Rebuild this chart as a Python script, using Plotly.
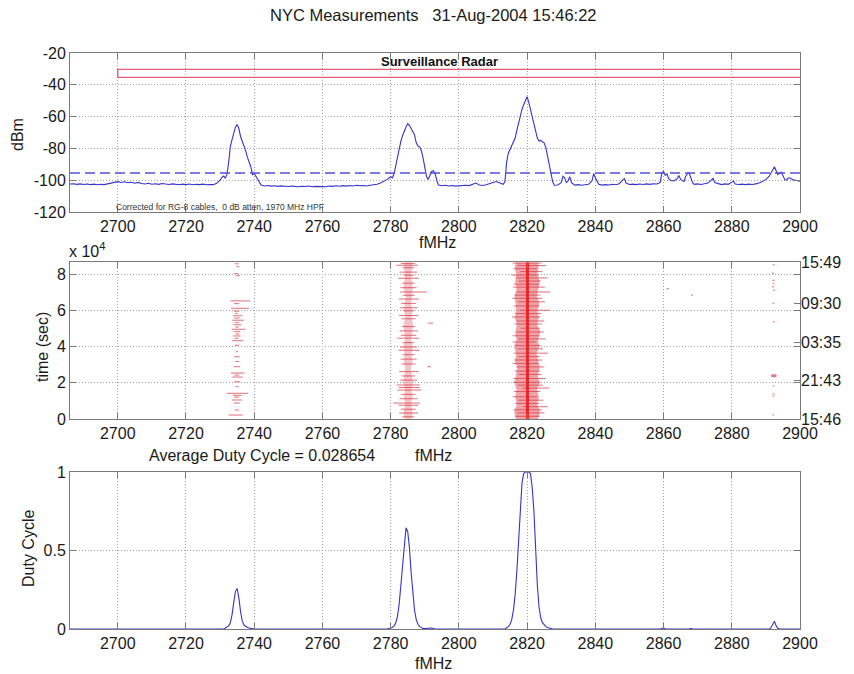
import plotly.graph_objects as go

# ---------------- data ----------------
spec_freq = [2686, 2687, 2688, 2689, 2690, 2691, 2692, 2693, 2694, 2695, 2696, 2697, 2698, 2699,
             2700, 2701, 2702, 2703, 2704, 2705, 2706, 2707, 2708, 2709, 2710, 2711, 2712, 2713,
             2714, 2715, 2716, 2717, 2718, 2719, 2720, 2721, 2722, 2723, 2724, 2725, 2726, 2727,
             2728, 2729, 2730, 2730.5, 2731, 2731.5, 2732, 2732.5, 2733, 2733.5, 2734, 2734.5,
             2735, 2735.5, 2736, 2736.5, 2737, 2737.5, 2738, 2738.5, 2739, 2739.5, 2740, 2740.5,
             2741, 2741.5, 2742, 2743, 2744, 2745, 2746, 2747, 2748, 2749, 2750, 2751, 2752, 2753,
             2754, 2755, 2756, 2757, 2758, 2759, 2760, 2761, 2762, 2763, 2764, 2765, 2766, 2767,
             2768, 2769, 2770, 2771, 2772, 2773, 2774, 2775, 2776, 2777, 2778, 2779, 2780, 2780.5,
             2781, 2781.5, 2782, 2782.5, 2783, 2783.5, 2784, 2784.5, 2785, 2785.5, 2786, 2786.5,
             2787, 2787.5, 2788, 2788.5, 2789, 2789.5, 2790, 2790.5, 2791, 2791.5, 2792, 2792.5,
             2793, 2793.5, 2794, 2795, 2796, 2797, 2798, 2799, 2800, 2801, 2802, 2803, 2804, 2805,
             2806, 2807, 2808, 2809, 2810, 2811, 2812, 2813, 2813.5, 2814, 2814.5, 2815, 2815.5,
             2816, 2816.5, 2817, 2817.5, 2818, 2818.5, 2819, 2819.5, 2820, 2820.5, 2821, 2821.5,
             2822, 2822.5, 2823, 2823.5, 2824, 2824.5, 2825, 2825.5, 2826, 2826.5, 2827, 2827.5,
             2828, 2829, 2830, 2830.5, 2831, 2831.5, 2832, 2832.5, 2833, 2834, 2835, 2836, 2837,
             2838, 2839, 2839.5, 2840, 2841, 2842, 2843, 2844, 2845, 2846, 2847, 2848, 2848.5,
             2849, 2850, 2851, 2852, 2853, 2854, 2855, 2856, 2857, 2858, 2859, 2859.5, 2860,
             2860.5, 2861, 2861.5, 2862, 2863, 2864, 2864.5, 2865, 2866, 2866.5, 2867, 2867.5,
             2868, 2868.5, 2869, 2870, 2871, 2872, 2873, 2874, 2874.5, 2875, 2876, 2877, 2878,
             2879, 2880, 2880.5, 2881, 2882, 2883, 2884, 2885, 2886, 2887, 2888, 2889, 2890, 2891,
             2891.5, 2892, 2892.5, 2893, 2893.5, 2894, 2894.5, 2895, 2895.5, 2896, 2896.5, 2897,
             2898, 2899, 2900]
spec_dbm = [-102.4, -102.2, -102.6, -102.3, -102.7, -102.4, -102.8, -102.5, -102.9, -102.6, -102.8,
            -102.3, -101.8, -101.5, -100.9, -101.4, -101.0, -101.6, -101.3, -101.9, -101.4, -102.1,
            -102.4, -101.9, -102.5, -102.2, -102.6, -102.1, -102.4, -102.7, -102.3, -102.6, -102.9,
            -102.5, -102.8, -102.4, -102.9, -102.6, -102.8, -102.5, -102.9, -102.7, -102.8, -102.0,
            -100.0, -98.2, -97.4, -98.6, -96.5, -89.0, -79.0, -74.5, -70.5, -66.5, -65.0, -67.5,
            -72.5, -75.5, -78.0, -81.5, -85.5, -88.0, -91.5, -96.5, -95.8, -97.5, -99.5, -101.5,
            -103.0, -103.6, -103.3, -103.7, -103.5, -103.9, -103.6, -103.8, -104.0, -103.7, -103.9,
            -104.1, -103.8, -104.0, -103.7, -104.1, -103.9, -104.0, -103.8, -104.1, -103.7, -103.9,
            -103.5, -103.8, -103.4, -103.7, -103.3, -103.6, -103.2, -103.5, -103.3, -103.6, -103.2,
            -103.0, -102.6, -101.8, -100.8, -99.5, -97.8, -98.5, -96.0, -91.0, -84.0, -79.0, -75.5,
            -72.0, -69.0, -66.5, -64.5, -65.5, -67.5, -69.5, -71.5, -76.5, -78.5, -79.0, -81.5,
            -86.0, -91.0, -97.5, -99.5, -96.5, -94.5, -94.0, -95.5, -100.0, -103.0, -103.5, -103.2,
            -103.6, -103.3, -103.7, -103.4, -103.5, -103.2, -103.4, -102.8, -101.8, -103.0, -103.3,
            -102.9, -102.4, -101.5, -100.8, -101.9, -102.6, -101.0, -88.5, -83.0, -80.5, -79.0,
            -76.0, -73.5, -68.5, -63.5, -59.5, -55.5, -52.5, -49.5, -47.5, -51.0, -55.5, -60.5,
            -65.0, -70.0, -73.5, -75.5, -74.8, -76.0, -76.5, -79.5, -84.5, -89.0, -95.0, -101.0,
            -103.2, -103.0, -101.5, -97.5, -98.5, -101.5, -100.5, -97.8, -101.5, -103.1, -102.8,
            -103.2, -102.9, -102.6, -100.5, -95.8, -98.5, -102.5, -103.1, -102.8, -103.0, -102.6,
            -102.9, -102.2, -100.0, -99.0, -101.8, -102.7, -102.5, -102.8, -102.4, -102.7, -102.3,
            -102.6, -102.2, -102.4, -101.5, -95.5, -94.5, -97.0, -96.0, -99.0, -100.0, -100.5,
            -99.0, -97.0, -99.5, -100.8, -97.5, -96.0, -95.5, -98.5, -101.5, -102.6, -102.3,
            -102.7, -102.4, -101.8, -100.0, -98.8, -101.5, -102.4, -102.8, -102.3, -102.6, -101.2,
            -100.5, -102.4, -102.7, -102.5, -102.8, -102.5, -102.7, -102.3, -101.8, -100.8, -99.5,
            -97.5, -95.5, -93.0, -91.5, -94.0, -96.5, -95.5, -95.0, -97.0, -99.5, -100.0, -98.8,
            -98.5, -99.8, -100.2, -100.6]
threshold_dbm = -95.5
band_name = "Surveillance Radar"
band_freq = [2700, 2910]          # allocation band start / (beyond) end
band_dbm = [-35.3, -30.3]         # drawn band box (low / high)
dbm_ticks = [-120, -100, -80, -60, -40, -20]

# time-frequency occupancy events: time (s), start MHz, end MHz
e35_t = [85800, 84200, 80400, 79200, 65300, 63800, 61200, 59600, 58400, 57100, 55800, 54600, 53300,
         52100, 50800, 49600, 48300, 47000, 45900, 44600, 43300, 40800, 37200, 34400, 31800, 28900,
         25400, 24300, 23200, 20600, 17900, 14200, 13100, 12100, 10500, 8800, 5000, 2200]
e35_f0 = [2734.3, 2734.8, 2734.2, 2734.6, 2733.0, 2734.1, 2733.2, 2734.0, 2734.4, 2733.8, 2734.2,
          2733.6, 2734.3, 2733.9, 2734.5, 2733.4, 2734.1, 2734.6, 2733.8, 2734.2, 2733.5, 2734.3,
          2734.6, 2734.1, 2734.5, 2734.0, 2733.2, 2734.3, 2733.6, 2734.2, 2734.5, 2732.0, 2733.8,
          2734.1, 2733.5, 2734.0, 2734.3, 2732.5]
e35_f1 = [2735.4, 2735.6, 2735.3, 2735.8, 2738.8, 2735.5, 2738.5, 2735.6, 2735.2, 2736.5, 2735.7,
          2737.0, 2735.5, 2736.2, 2735.4, 2737.4, 2735.8, 2735.6, 2736.0, 2735.4, 2736.8, 2735.6,
          2735.3, 2735.7, 2735.5, 2735.9, 2737.2, 2735.6, 2736.6, 2735.8, 2735.4, 2738.2, 2736.3,
          2735.5, 2736.4, 2735.8, 2735.6, 2736.6]

b85_t = [0, 4000, 8000, 12000, 16000, 20000, 24000, 28000, 32000, 36000, 40000, 44000, 48000,
         52000, 56000, 60000, 64000, 68000, 72000, 76000, 80000, 84000, 86600]
b85_lo = [2784.1, 2783.8, 2784.3, 2783.9, 2784.2, 2783.7, 2784.0, 2784.3, 2783.9, 2784.1, 2783.8,
          2784.2, 2784.0, 2783.7, 2784.3, 2783.9, 2784.1, 2784.4, 2783.8, 2784.0, 2784.2, 2783.9, 2784.1]
b85_hi = [2786.2, 2786.5, 2786.0, 2786.4, 2786.1, 2786.6, 2786.2, 2785.9, 2786.4, 2786.1, 2786.5,
          2786.0, 2786.3, 2786.6, 2786.1, 2786.4, 2786.0, 2786.3, 2786.5, 2786.2, 2786.0, 2786.4, 2786.2]
e85_t = [86000, 85000, 83600, 81200, 79500, 77800, 75100, 72600, 70200, 68400, 66300, 63900, 61500,
         59800, 57200, 55400, 53000, 51100, 48700, 46300, 44700, 42200, 39800, 38000, 35600, 33100,
         30400, 28900, 26200, 23800, 21500, 18800, 17400, 16000, 13600, 11200, 8800, 7600, 5400,
         3300, 1200]
e85_f0 = [2783.0, 2781.7, 2783.5, 2782.6, 2783.8, 2782.2, 2783.4, 2782.9, 2782.8, 2783.6, 2782.4,
          2783.1, 2782.7, 2783.9, 2782.5, 2783.2, 2791.0, 2783.4, 2782.6, 2783.0, 2781.9, 2783.5,
          2782.8, 2782.3, 2783.6, 2782.9, 2783.2, 2790.8, 2782.5, 2783.3, 2782.8, 2781.8, 2782.4,
          2782.0, 2783.1, 2782.6, 2780.7, 2782.3, 2783.0, 2782.5, 2783.4]
e85_f1 = [2787.2, 2788.0, 2786.9, 2787.8, 2786.8, 2788.2, 2787.1, 2787.6, 2790.6, 2787.0, 2788.3,
          2787.4, 2787.9, 2786.9, 2788.1, 2787.3, 2792.5, 2787.1, 2788.0, 2787.5, 2788.4, 2786.9,
          2787.7, 2788.5, 2787.0, 2787.6, 2787.3, 2791.8, 2788.2, 2787.2, 2787.8, 2788.6, 2788.4,
          2788.9, 2787.3, 2787.9, 2788.6, 2788.1, 2787.4, 2788.0, 2786.9]

b20_t = b85_t
b20_lo = [2816.8, 2816.2, 2817.0, 2816.5, 2816.9, 2816.3, 2816.7, 2817.1, 2816.4, 2816.8, 2816.2,
          2816.9, 2816.5, 2817.0, 2816.4, 2816.8, 2816.6, 2816.3, 2816.9, 2816.5, 2816.8, 2816.4, 2816.7]
b20_hi = [2823.2, 2823.8, 2823.0, 2823.5, 2822.9, 2823.6, 2823.1, 2823.7, 2823.3, 2822.8, 2823.5,
          2823.2, 2823.9, 2823.0, 2823.4, 2823.1, 2823.6, 2822.9, 2823.3, 2823.7, 2823.0, 2823.4, 2823.2]
c20_freq = [2820.1, 2820.1]
c20_t = [0, 86600]
e20_t = [86200, 84800, 83100, 81500, 79600, 78000, 76300, 74500, 72900, 70200, 68500, 66700, 64800,
         62500, 60100, 58300, 56400, 54200, 52500, 50200, 48100, 46000, 44300, 42600, 40700, 38800,
         36400, 34500, 32600, 30700, 28800, 26500, 24600, 22400, 20300, 18700, 17100, 15200, 12300,
         10400, 8600, 6800, 5100, 3400, 1500]
e20_f0 = [2815.8, 2817.2, 2816.0, 2818.0, 2815.5, 2816.8, 2817.5, 2816.2, 2815.9, 2817.0, 2816.4,
          2815.7, 2817.3, 2816.1, 2817.8, 2816.5, 2815.6, 2817.1, 2816.3, 2818.2, 2816.9, 2815.8,
          2817.4, 2815.8, 2816.6, 2817.2, 2816.0, 2817.5, 2816.3, 2815.8, 2817.0, 2816.4, 2817.6,
          2816.1, 2815.9, 2817.3, 2818.5, 2816.2, 2815.8, 2817.4, 2816.5, 2818.7, 2816.0, 2817.1, 2816.4]
e20_f1 = [2824.2, 2825.6, 2822.8, 2824.5, 2823.4, 2826.0, 2824.0, 2823.6, 2825.2, 2826.8, 2823.9,
          2824.4, 2825.3, 2823.5, 2826.7, 2824.1, 2823.8, 2825.0, 2824.3, 2823.7, 2824.9, 2823.6,
          2825.4, 2822.5, 2823.9, 2824.6, 2826.1, 2823.8, 2824.4, 2823.2, 2825.0, 2823.7, 2824.2,
          2825.5, 2823.9, 2824.6, 2826.5, 2823.8, 2822.9, 2824.8, 2823.6, 2826.0, 2824.3, 2825.1, 2823.7]

e92_t = [85200, 80600, 76700, 74800, 73100, 71200, 64000, 53700, 24400, 23900, 23400, 18300, 13800,
         12600, 2200, 72000, 68500]
e92_f0 = [2892.0, 2891.8, 2891.9, 2892.0, 2891.8, 2892.1, 2891.9, 2892.0, 2891.6, 2891.5, 2891.6,
          2892.0, 2891.9, 2892.0, 2891.9, 2860.8, 2868.0]
e92_f1 = [2892.6, 2892.4, 2892.6, 2892.5, 2892.4, 2892.7, 2892.5, 2892.6, 2893.0, 2893.2, 2893.0,
          2892.5, 2892.6, 2892.5, 2892.4, 2861.6, 2868.6]

time_ticks = [0, 20000, 40000, 60000, 80000]
time_tick_text = ["0", "2", "4", "6", "8"]
clock_tick_vals = [0, 21420, 42540, 63840, 86580]
clock_tick_text = ["15:46", "21:43", "03:35", "09:30", "15:49"]

duty_freq = [2686, 2730, 2731, 2731.5, 2732, 2732.5, 2733, 2733.5, 2734, 2734.5, 2735, 2735.5, 2736,
             2736.5, 2737, 2737.5, 2738, 2738.5, 2739, 2739.5, 2740, 2779, 2780, 2780.5, 2781,
             2781.5, 2782, 2782.5, 2783, 2783.5, 2784, 2784.5, 2785, 2785.5, 2786, 2786.5, 2787,
             2787.5, 2788, 2788.5, 2789, 2789.5, 2790, 2790.5, 2791, 2791.5, 2792, 2792.5, 2793,
             2813.5, 2814, 2814.5, 2815, 2815.5, 2816, 2816.5, 2817, 2817.5, 2818, 2818.5, 2819,
             2819.5, 2820, 2820.5, 2821, 2821.5, 2822, 2822.5, 2823, 2823.5, 2824, 2824.5, 2825,
             2825.5, 2826, 2826.5, 2827, 2827.5, 2859, 2859.5, 2860, 2860.5, 2861, 2867.5, 2868,
             2868.5, 2891, 2891.5, 2892, 2892.5, 2893, 2893.5, 2894, 2900]
duty_val = [0, 0, 0, 0.005, 0.01, 0.02, 0.04, 0.09, 0.17, 0.24, 0.258, 0.2, 0.11, 0.05, 0.025, 0.015,
            0.01, 0.006, 0.004, 0.002, 0, 0, 0.005, 0.01, 0.02, 0.04, 0.08, 0.16, 0.28, 0.42, 0.56,
            0.645, 0.62, 0.52, 0.36, 0.22, 0.12, 0.06, 0.03, 0.015, 0.008, 0.004, 0.003, 0.004,
            0.003, 0.005, 0.006, 0.003, 0, 0, 0.005, 0.015, 0.03, 0.06, 0.12, 0.22, 0.37, 0.55, 0.75,
            0.93, 0.99, 1.0, 1.0, 1.0, 0.99, 0.9, 0.75, 0.5, 0.28, 0.14, 0.07, 0.04, 0.025, 0.015,
            0.01, 0.006, 0.002, 0, 0, 0.003, 0.006, 0.002, 0, 0, 0.004, 0, 0, 0.008, 0.035, 0.05,
            0.02, 0.004, 0, 0]
duty_ticks = [0, 0.5, 1]
avg_duty = 0.028654

freq_ticks = [2700, 2720, 2740, 2760, 2780, 2800, 2820, 2840, 2860, 2880, 2900]
freq_range = [2686, 2900]

# ---------------- layout helpers ----------------
W, H = 854, 674
FONT = "Liberation Sans, Arial, Helvetica, sans-serif"


def px(x):
    return x / W


def py(y):
    return 1 - y / H


BLUE = "#3434cc"
RED = "rgba(218,60,72,0.75)"
AXC = "#7a7a7a"


def segs(t, f0, f1):
    xs, ys = [], []
    for tt, a, b in zip(t, f0, f1):
        xs += [a, b, None]
        ys += [tt, tt, None]
    return xs, ys


fig = go.Figure()

# top: spectrum
fig.add_trace(go.Scatter(x=spec_freq, y=spec_dbm, mode="lines", line=dict(color=BLUE, width=1.1),
                         xaxis="x", yaxis="y", hoverinfo="skip"))
fig.add_trace(go.Scatter(x=freq_range, y=[threshold_dbm, threshold_dbm], mode="lines",
                         line=dict(color="#5050dd", width=1.6, dash="10px,5px"),
                         xaxis="x", yaxis="y", hoverinfo="skip"))
fig.add_trace(go.Scatter(x=[band_freq[1], band_freq[0], band_freq[0], band_freq[1]],
                         y=[band_dbm[1], band_dbm[1], band_dbm[0], band_dbm[0]], mode="lines",
                         line=dict(color="#e06070", width=1.4), xaxis="x", yaxis="y", hoverinfo="skip"))

# middle: occupancy
for lo, hi, tt, col in [(b85_lo, b85_hi, b85_t, "rgba(228,110,120,0.40)"),
                        (b20_lo, b20_hi, b20_t, "rgba(225,90,100,0.55)")]:
    fig.add_trace(go.Scatter(x=lo + hi[::-1], y=tt + tt[::-1], mode="lines", fill="toself",
                             fillcolor=col, line=dict(width=0), xaxis="x2", yaxis="y2",
                             hoverinfo="skip"))
for t, f0, f1 in [(e35_t, e35_f0, e35_f1), (e85_t, e85_f0, e85_f1), (e20_t, e20_f0, e20_f1),
                  (e92_t, e92_f0, e92_f1)]:
    xs, ys = segs(t, f0, f1)
    fig.add_trace(go.Scatter(x=xs, y=ys, mode="lines", line=dict(color=RED, width=1),
                             xaxis="x2", yaxis="y2", hoverinfo="skip", connectgaps=False))
fig.add_trace(go.Scatter(x=c20_freq, y=c20_t, mode="lines", line=dict(color="#e82828", width=3),
                         xaxis="x2", yaxis="y2", hoverinfo="skip"))
fig.add_trace(go.Scatter(x=c20_freq, y=c20_t, mode="lines", line=dict(width=0), opacity=0,
                         xaxis="x2", yaxis="y4", hoverinfo="skip"))

# bottom: duty cycle
fig.add_trace(go.Scatter(x=duty_freq, y=duty_val, mode="lines", line=dict(color=BLUE, width=1.1),
                         xaxis="x3", yaxis="y3", hoverinfo="skip"))

common = dict(showline=True, linecolor=AXC, linewidth=1, mirror="ticks", ticks="inside", ticklen=6,
              tickcolor=AXC, showgrid=True, gridcolor="#a0a0a0", griddash="1px,2px", gridwidth=1,
              zeroline=False, automargin=False,
              tickfont=dict(size=16, color="#1a1a1a", family=FONT))
xdom = [px(70), px(800)]
yd_top = [py(212), py(53)]
yd_mid = [py(419), py(262.3)]
yd_bot = [py(629), py(472)]

fig.update_layout(
    template="none",
    width=W, height=H, margin=dict(l=0, r=0, t=0, b=0, pad=0), showlegend=False,
    paper_bgcolor="white", plot_bgcolor="white", font=dict(family=FONT, size=16, color="#1a1a1a"),
    xaxis=dict(common, domain=xdom, range=freq_range, tickvals=freq_ticks, anchor="y"),
    yaxis=dict(common, domain=yd_top, range=[-120, -20], tickvals=dbm_ticks,
               ticktext=[str(v) for v in dbm_ticks], anchor="x"),
    xaxis2=dict(common, domain=xdom, range=freq_range, tickvals=freq_ticks, anchor="y2"),
    yaxis2=dict(common, domain=yd_mid, range=[0, 86630], tickvals=time_ticks,
                ticktext=time_tick_text, anchor="x2"),
    yaxis4=dict(domain=yd_mid, range=[0, 86630], overlaying="y2", side="right", anchor="x2",
                tickvals=clock_tick_vals, ticktext=clock_tick_text, ticks="inside", ticklen=6,
                tickcolor=AXC, showgrid=False, zeroline=False, showline=False, automargin=False,
                tickfont=dict(size=16, color="#1a1a1a", family=FONT)),
    xaxis3=dict(common, domain=xdom, range=freq_range, tickvals=freq_ticks, anchor="y3"),
    yaxis3=dict(common, domain=yd_bot, range=[0, 1], tickvals=duty_ticks,
                ticktext=["0", "0.5", "1"], anchor="x3"),
)

ann = []


def note(text, x, y, size=16, xanchor="center", angle=0, color="#1a1a1a"):
    ann.append(dict(text=text, x=px(x), y=py(y), xref="paper", yref="paper", showarrow=False,
                    xanchor=xanchor, yanchor="middle", textangle=angle,
                    font=dict(size=size, color=color, family=FONT)))


nb = "\u00a0"
note("NYC Measurements" + nb * 3 + "31-Aug-2004 15:46:22", 433, 15.5, size=16.5)
note("dBm", 18, 135, angle=-90)
note("fMHz", 437, 243)
note("x 10<sup>4</sup>", 67, 250, xanchor="left")
note("time (sec)", 43, 347, angle=-90)
note("Average Duty Cycle = " + str(avg_duty), 262, 455)
note("fMHz", 433, 455)
note("Duty Cycle", 28, 549, angle=-90)
note("fMHz", 433, 663)
note("<b>" + band_name + "</b>", 439, 62, size=13, color="#111111")
note("Corrected for RG-8 cables," + nb * 2 + "0 dB atten, 1970 MHz HPF", 220, 207.5, size=8.5,
     color="#333333")
fig.update_layout(annotations=ann)

fig.write_html("out.html")
